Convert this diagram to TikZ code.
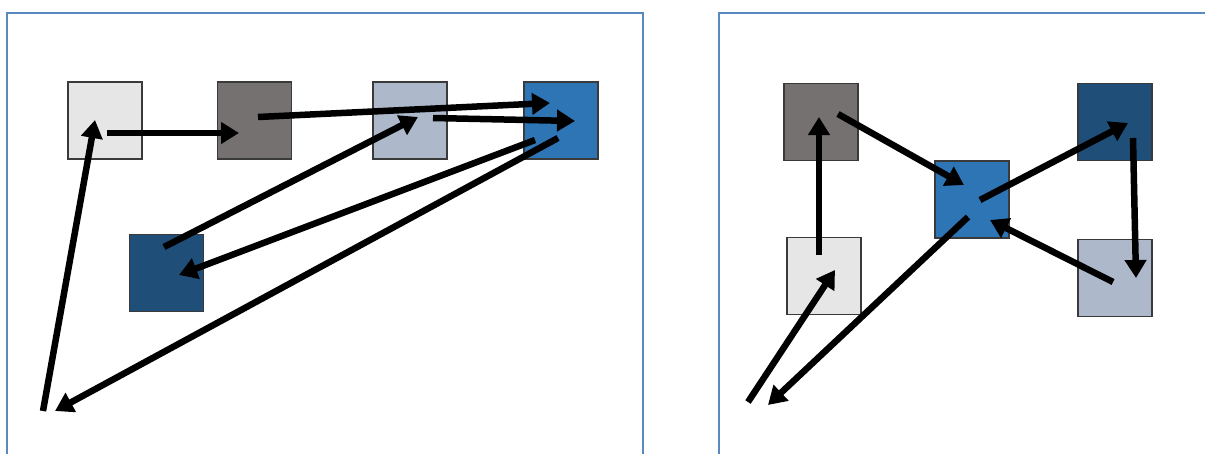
\documentclass[tikz,border=0pt]{standalone}
\usetikzlibrary{arrows.meta}
\definecolor{cLight}{HTML}{E7E6E6}
\definecolor{cDark}{HTML}{767171}
\definecolor{cBlueGray}{HTML}{ADB9CA}
\definecolor{cBlue}{HTML}{2E75B6}
\definecolor{cNavy}{HTML}{1F4E79}
\definecolor{cFrame}{HTML}{5A88C0}
\definecolor{cEdge}{HTML}{3A3A3A}
\tikzset{
  sq/.style={draw=cEdge, line width=1.2pt, minimum width=74pt, minimum height=77pt, inner sep=0pt, outer sep=0pt},
  panel/.style={draw=cFrame, line width=1.5pt},
  arr/.style={line width=6.5pt, -{Triangle[length=18pt,width=21pt]}},
}
\begin{document}
\begin{tikzpicture}[x=1pt,y=-1pt]
\clip (0,0) rectangle (1205,453);
\fill[white] (0,0) rectangle (1205,453);
\draw[panel] (7,13) rectangle (643,470);
\draw[panel] (719,13) rectangle (1220,470);
% left panel
\node[sq, fill=cLight]    (L1) at (105,120.5) {};
\node[sq, fill=cDark]     (L2) at (254.5,120.5) {};
\node[sq, fill=cBlueGray] (L3) at (410,120.5) {};
\node[sq, fill=cBlue]     (L4) at (561,120.5) {};
\node[sq, fill=cNavy]     (L5) at (166.5,273) {};
\coordinate (P1) at (55,411);
\coordinate (P2) at (43,411);
\draw[arr] ([shift={(2,12.5)}]L1.center) -- ([shift={(-15.5,12.5)}]L2.center);
\draw[arr] ([shift={(3.5,-3.5)}]L2.center) -- ([shift={(-11,-17.5)}]L4.center);
\draw[arr] ([shift={(23,-2.5)}]L3.center) -- ([shift={(14,0.5)}]L4.center);
\draw[arr] ([shift={(-2.5,-26)}]L5.center) -- ([shift={(8,-3.5)}]L3.center);
\draw[arr] ([shift={(-26,19.5)}]L4.center) -- ([shift={(12.5,2)}]L5.center);
\draw[arr] ([shift={(-3,17.5)}]L4.center) -- (P1);
\draw[arr] (P2) -- ([shift={(-10,-0.5)}]L1.center);
% right panel
\node[sq, fill=cDark]     (R1) at (821,122) {};
\node[sq, fill=cBlue]     (R2) at (972,199.5) {};
\node[sq, fill=cNavy]     (R3) at (1115,122) {};
\node[sq, fill=cLight]    (R4) at (824,276) {};
\node[sq, fill=cBlueGray] (R5) at (1115,278) {};
\coordinate (P3) at (768,405);
\coordinate (P4) at (748,402);
\draw[arr] ([shift={(-5,-21)}]R4.center) -- ([shift={(-2,-5)}]R1.center);
\draw[arr] ([shift={(17,-8)}]R1.center) -- ([shift={(-8,-14.5)}]R2.center);
\draw[arr] ([shift={(8,0.5)}]R2.center) -- ([shift={(13,1)}]R3.center);
\draw[arr] ([shift={(18,16)}]R3.center) -- ([shift={(21,0)}]R5.center);
\draw[arr] ([shift={(-2,4)}]R5.center) -- ([shift={(18,20.5)}]R2.center);
\draw[arr] ([shift={(-4,17.5)}]R2.center) -- (P3);
\draw[arr] (P4) -- ([shift={(11,-6)}]R4.center);
\end{tikzpicture}
\end{document}
